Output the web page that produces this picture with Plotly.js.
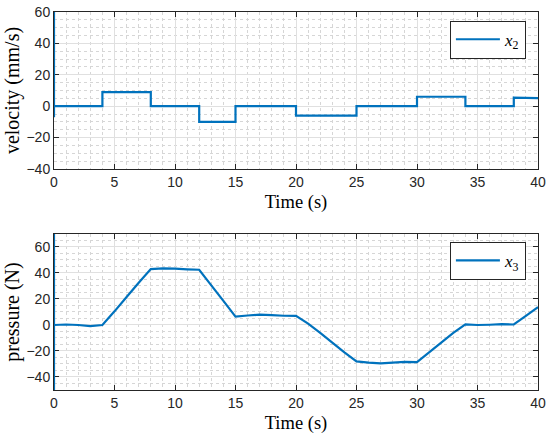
<!DOCTYPE html>
<html>
<head>
<meta charset="utf-8">
<script src="https://cdn.plot.ly/plotly-3.0.1.min.js"></script>
<style>html,body{margin:0;padding:0;background:#fff;}#chart{width:550px;height:439px;}</style>
</head>
<body>
<div id="chart"></div>
<script>
// Velocity x2 (mm/s) – piecewise constant steps
var velTime = [0, 0, 0, 4, 4, 8, 8, 12, 12, 15, 15, 20, 20, 25, 25, 30, 30, 34, 34, 38, 38, 40];
var velValue = [60, -7, 0, 0, 9, 9, 0, 0, -10, -10, 0, 0, -6, -6, 0, 0, 6, 6, 0, 0, 5.5, 5.2];

// Pressure x3 (N)
var prTime = [0, 0, 0, 1, 2, 3, 4, 5, 6, 7, 8, 9, 10, 11, 12, 13, 14, 15, 16, 17, 18, 19, 20,
              21, 22, 23, 24, 25, 26, 27, 28, 29, 30, 31, 32, 33, 34, 35, 36, 37, 38, 39, 40];
var prValue = [70, -50, 0, 0.4, 0, -0.8, 0, 10.5, 21.5, 32.5, 43, 43.6, 43.3, 42.8, 42.5, 30.5, 18.5, 6.5,
               7.3, 8, 7.6, 7.1, 7, 1, -6, -13.5, -21, -28, -29, -29.5, -29, -28.3, -28.5, -21, -13.5, -6,
               0.5, 0, 0.2, 0.6, 0.4, 7, 13.8];

var xTicks = [0, 5, 10, 15, 20, 25, 30, 35, 40];
var velTicks = [-40, -20, 0, 20, 40, 60];
var prTicks = [-40, -20, 0, 20, 40, 60];

var blue = '#0072BD';
var axisColor = '#262626';
var tickFont = {family: 'Liberation Sans, Arial, sans-serif', size: 14, color: '#262626'};
var xTitleFont = {family: 'Liberation Serif, Times New Roman, serif', size: 18.5, color: '#000'};
var yTitleFont = {family: 'Liberation Serif, Times New Roman, serif', size: 20, color: '#000'};

function xAxis(anchor) {
  return {
    anchor: anchor, domain: [0, 1], range: [0, 40],
    tickvals: xTicks, ticktext: xTicks.map(String),
    ticks: 'inside', ticklen: 5, tickcolor: axisColor, tickwidth: 1,
    showline: true, linecolor: axisColor, linewidth: 1, mirror: 'ticks',
    showgrid: true, gridcolor: '#e0e0e0', gridwidth: 1,
    minor: {dtick: 1, showgrid: true, gridcolor: '#d6d6d6', griddash: 'dot', gridwidth: 1, ticks: ''},
    zeroline: false, tickfont: tickFont,
    layer: 'below traces',
    title: {text: 'Time (s)', font: xTitleFont, standoff: 6}
  };
}
function yAxis(anchor, domain, range, ticks, label) {
  return {
    anchor: anchor, domain: domain, range: range,
    tickvals: ticks, ticktext: ticks.map(function (v) { return v < 0 ? '\u2212' + Math.abs(v) : String(v); }),
    ticks: 'inside', ticklen: 5, tickcolor: axisColor, tickwidth: 1,
    showline: true, linecolor: axisColor, linewidth: 1, mirror: 'ticks',
    showgrid: true, gridcolor: '#e0e0e0', gridwidth: 1,
    minor: {dtick: 5, showgrid: true, gridcolor: '#d6d6d6', griddash: 'dot', gridwidth: 1, ticks: ''},
    zeroline: false, tickfont: tickFont,
    layer: 'below traces',
    title: {text: label, font: yTitleFont, standoff: 1}
  };
}

var traces = [
  {x: velTime, y: velValue, xaxis: 'x', yaxis: 'y', mode: 'lines', name: '<i>x</i><sub>2</sub>',
   line: {color: blue, width: 2.2, simplify: false}, legend: 'legend', cliponaxis: false},
  {x: prTime, y: prValue, xaxis: 'x2', yaxis: 'y2', mode: 'lines', name: '<i>x</i><sub>3</sub>',
   line: {color: blue, width: 2.2, simplify: false}, legend: 'legend2', cliponaxis: false}
];

var legendCommon = {
  xanchor: 'right', yanchor: 'top', x: 0.975,
  bgcolor: '#fff', bordercolor: axisColor, borderwidth: 1,
  font: {family: 'Liberation Serif, Times New Roman, serif', size: 17, color: '#000'},
  itemwidth: 44, tracegroupgap: 0
};

var layout = {
  width: 550, height: 439,
  margin: {l: 54, r: 12, t: 12, b: 49},
  paper_bgcolor: '#fff', plot_bgcolor: '#fff',
  showlegend: true,
  xaxis: xAxis('y'),
  yaxis: yAxis('x', [0.5847, 1], [-40, 60], velTicks, 'velocity (mm/s)'),
  xaxis2: xAxis('y2'),
  yaxis2: yAxis('x2', [0, 0.4127], [-50, 70], prTicks, 'pressure (N)'),
  legend: Object.assign({}, legendCommon, {y: 0.977}),
  legend2: Object.assign({}, legendCommon, {y: 0.392})
};

Plotly.newPlot('chart', traces, layout, {displayModeBar: false, staticPlot: true});
</script>
</body>
</html>
